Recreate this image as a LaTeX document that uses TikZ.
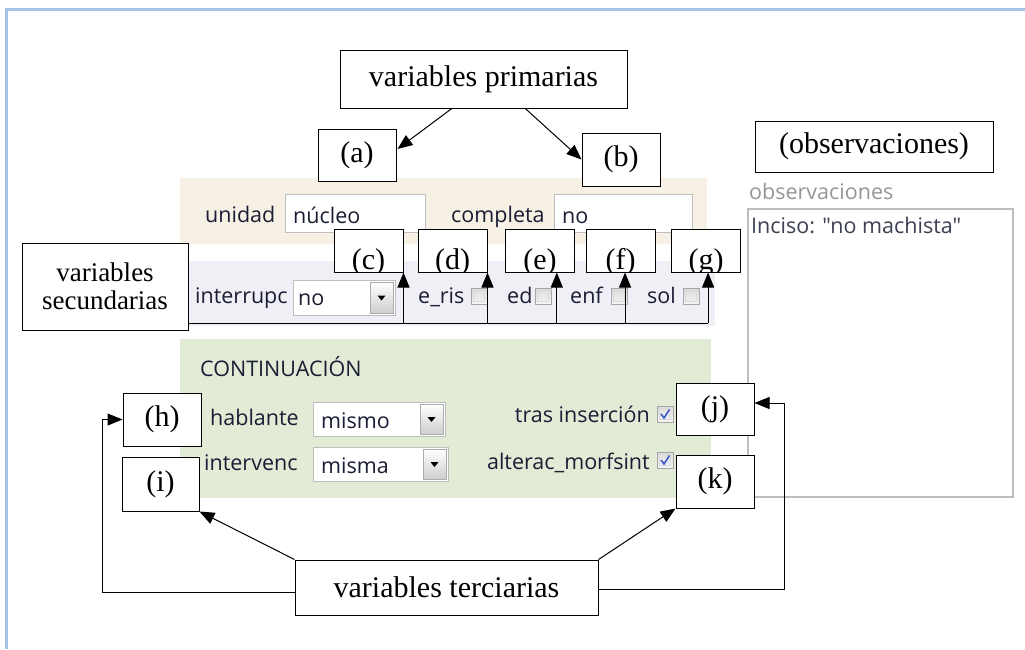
\documentclass[tikz,border=0pt]{standalone}
\usepackage{fontspec}
\setmainfont{Liberation Serif}
\newfontfamily\uifont{Open Sans}
\usetikzlibrary{arrows.meta,calc}

\definecolor{frameblue}{RGB}{164,197,230}
\definecolor{panelbeige}{RGB}{247,240,229}
\definecolor{panellav}{RGB}{240,239,246}
\definecolor{panelgreen}{RGB}{226,235,214}
\definecolor{fieldgray}{RGB}{190,190,190}
\definecolor{uitext}{RGB}{26,30,52}
\definecolor{obsgray}{RGB}{150,150,150}
\definecolor{tickblue}{RGB}{60,90,200}

% drop-down field: corners x1,y1,x2,y2
\newcommand{\dropfield}[4]{%
  \draw[field] (#1,#2) rectangle (#3,#4);
  \shade[top color=white, bottom color=gray!38] ({#3-25},{#2+2}) rectangle ({#3-2},{#4-2});
  \draw[gray!65, line width=0.8pt] ({#3-25},{#2+2}) rectangle ({#3-2},{#4-2});
  \fill ({#3-17.5},{(#2+#4)/2-2}) -- ++(8,0) -- ++(-4,5) -- cycle;}
% check box with its top left corner
\newcommand{\tickbox}[2]{%
  \shade[top color=gray!28, bottom color=gray!8] (#1,#2) rectangle ++(16,16);
  \draw[gray!70, line width=0.8pt] (#1,#2) rectangle ++(16,16);
  \draw[gray!30, line width=0.8pt] ({#1+2.5},{#2+2.5}) rectangle ++(11,11);}
\newcommand{\tickmark}[2]{%
  \draw[tickblue, line width=1.6pt] ({#1+4},{#2+8}) -- ({#1+7},{#2+12}) -- ({#1+12.5},{#2+3.5});}

\tikzset{
  tag/.style={draw=black, line width=1pt, fill=white, inner sep=0pt,
    font=\fontsize{30}{34}\selectfont, align=center},
  tagclip/.style={tag, minimum width=69pt, minimum height=43pt,
    path picture={\node[font=\fontsize{30}{34}\selectfont, anchor=base, inner sep=0pt]
      at ($(path picture bounding box.south)+(0,-3)$) {#1};}},
  arr/.style={-{Triangle[length=15pt,width=12pt]}, line width=1pt},
  wire/.style={line width=1pt},
  field/.style={draw=fieldgray, fill=white, line width=1pt},
  ui/.style={font=\uifont\fontsize{21.5}{24}\selectfont, text=uitext, inner sep=0pt},
}

\begin{document}
\begin{tikzpicture}[x=1pt,y=-1pt]
\useasboundingbox (0,0) rectangle (1025,649);
\fill[white] (0,0) rectangle (1025,649);
\draw[frameblue, line width=3pt] (6.5,649) -- (6.5,9.5) -- (1025,9.5);

% form panels
\fill[panelbeige] (180,178) rectangle (707,244);
\fill[panellav] (183,261) rectangle (715,326);
\fill[panelgreen] (180,339) rectangle (711,498);

% primary row
\node[ui, anchor=base west] (lunidad) at (205,222) {unidad};
\draw[field] (285,194) rectangle (425,232);
\node[ui, anchor=base west] (vunidad) at (293,223) {núcleo};
\node[ui, anchor=base west] (lcompleta) at (451,222) {completa};
\draw[field] (554,194) rectangle (692,232);
\node[ui, anchor=base west] (vcompleta) at (562,223) {no};

% secondary row
\node[ui, anchor=base west] (linterr) at (195,303) {interrupc};
\dropfield{293}{280}{395}{315}
\node[ui, anchor=base west] (vinterr) at (298,305) {no};
\node[ui, anchor=base west] (leris) at (418,303) {e\_ris};
\tickbox{471}{288}
\node[ui, anchor=base west] (led) at (507,303) {ed};
\tickbox{535}{288}
\node[ui, anchor=base west] (lenf) at (570,303) {enf};
\tickbox{611}{288}
\node[ui, anchor=base west] (lsol) at (647,303) {sol};
\tickbox{683}{288}

% continuation block
\node[ui, anchor=base west] (lcont) at (200,376) {CONTINUACIÓN};
\node[ui, anchor=base west] (lhabl) at (210,425) {hablante};
\dropfield{313}{402}{445}{436}
\node[ui, anchor=base west] (vhabl) at (321,428) {mismo};
\node[ui, anchor=base west] (linterv) at (204,470) {intervenc};
\dropfield{313}{447}{448}{481}
\node[ui, anchor=base west] (vinterv) at (321,473) {misma};
\node[ui, anchor=base east] (ltras) at (650,422) {tras inserción};
\tickbox{657}{406}
\tickmark{657}{406}
\node[ui, anchor=base east] (lalter) at (650,469) {alterac\_morfsint};
\tickbox{657}{452}
\tickmark{657}{452}

% observations field
\node[ui, text=obsgray, anchor=base west] (lobs) at (749,199) {observaciones};
\draw[field, line width=1.2pt] (748,209) rectangle (1013,497);
\node[ui, text=uitext!85, anchor=base west] (vobs) at (751,233) {Inciso: "no machista"};

% labels
\node[tag, minimum width=287pt, minimum height=58pt] (prim) at (483.5,79) {variables primarias};
\node[tag, minimum width=78pt, minimum height=52pt] (a) at (357,155) {(a)};
\node[tag, minimum width=78pt, minimum height=53pt] (b) at (621,159.5) {(b)};
\node[tag, minimum width=238pt, minimum height=51pt] (obs) at (874,146.5) {(observaciones)};
\node[tag, minimum width=166pt, minimum height=87pt, font=\fontsize{27}{28}\selectfont] (sec) at (105,286.5) {variables\\secundarias};
\node[tagclip={(c)}] (c) at (368.5,250.5) {};
\node[tagclip={(d)}] (d) at (452.5,250.5) {};
\node[tagclip={(e)}] (e) at (540,250.5) {};
\node[tagclip={(f)}] (f) at (620.5,250.5) {};
\node[tagclip={(g)}] (g) at (706,250.5) {};
\node[tag, minimum width=78pt, minimum height=53pt] (h) at (162,419.5) {(h)};
\node[tag, minimum width=77pt, minimum height=54pt] (i) at (160.5,484) {(i)};
\node[tag, minimum width=78pt, minimum height=52pt] (j) at (715,409) {(j)};
\node[tag, minimum width=78pt, minimum height=53pt] (k) at (715,481.5) {(k)};
\node[tag, minimum width=303pt, minimum height=55pt] (ter) at (446.5,587.5) {variables terciarias};

% primary connectors
\draw[arr] ($(prim.south west)!0.39!(prim.south east)$) -- ($(a.east)+(1,-6)$);
\draw[arr] ($(prim.south west)!0.645!(prim.south east)$) -- (b.west);

% secondary bus
\coordinate (bus) at (0,323);
\coordinate (ex) at ($(e.south west)!0.74!(e.south east)$);
\coordinate (fx) at ($(f.south west)!0.565!(f.south east)$);
\coordinate (gx) at ($(g.south west)!0.53!(g.south east)$);
\draw[wire] (sec.east |- bus) -- (gx |- bus);
\foreach \p in {c.south east, d.south east, ex, fx, gx}
  \draw[arr] (\p |- bus) -- (\p);

% tertiary connectors
\draw[arr] (ter.north west) -- (i.south east);
\draw[arr] (ter.north east) -- (k.south west);
\draw[arr] ($(ter.west)+(0,4.5)$) -| ($(h.west)+(-20,0)$) -- (h.west);
\draw[arr] ($(ter.east)+(0,1.5)$) -| ($(j.east)+(30,-6)$) -- ($(j.east)+(0,-6)$);
\end{tikzpicture}
\end{document}
